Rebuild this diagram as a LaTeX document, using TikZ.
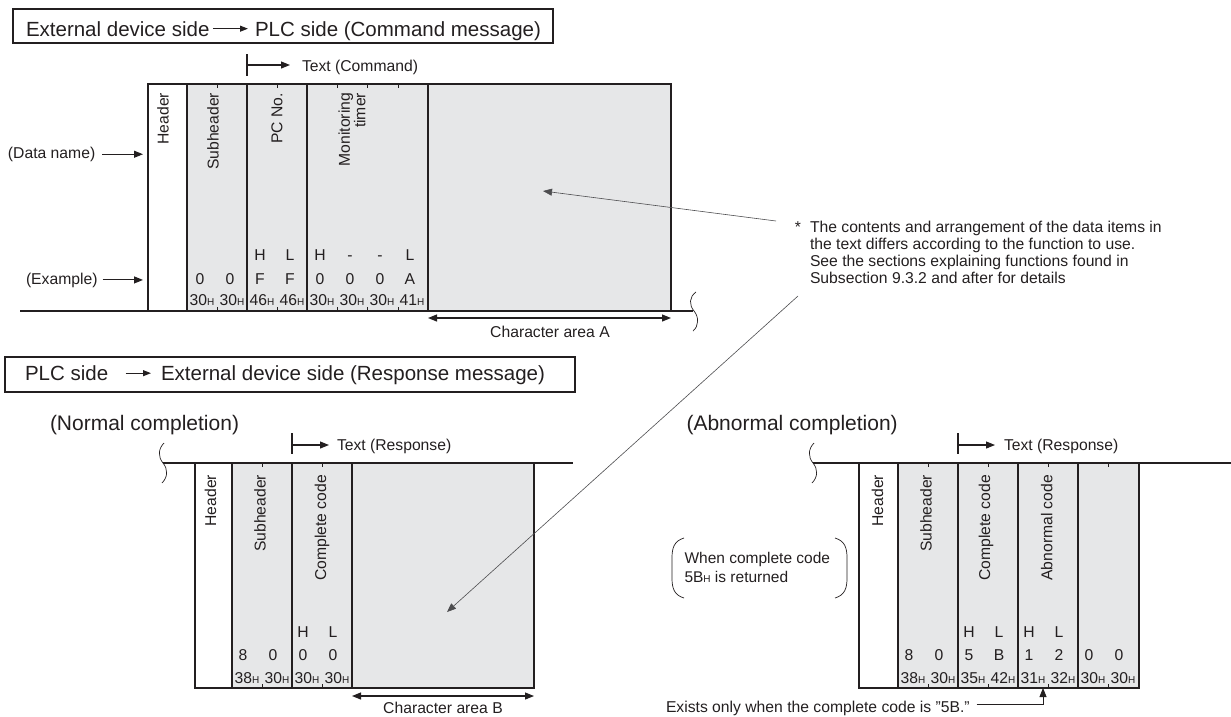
\documentclass[tikz,border=0pt]{standalone}
\usepackage{fontspec}
\setmainfont{Liberation Sans}
\usepackage{tikz}
\usetikzlibrary{arrows.meta,positioning,calc}
\usepackage{xcolor}
\definecolor{ink}{HTML}{231F20}
\definecolor{field}{HTML}{E6E7E8}
\definecolor{lead}{HTML}{4D4D4F}
\def\bw{30pt}
\newcommand{\bx}[1]{\makebox[\bw]{#1}}
\newcommand{\hx}[1]{#1{\fontsize{10}{10}\selectfont H}}
\tikzset{
  >={Triangle[length=9pt,width=7pt]},
  every node/.style={font=\fontsize{15.7}{17.2}\selectfont,text=ink,inner sep=0pt,outer sep=0pt},
  txt/.style={anchor=base west},
  headline/.style={anchor=base west,font=\fontsize{20.5}{24}\selectfont},
  banner/.style={draw=ink,line width=1.2pt,anchor=north west},
  cell/.style={draw=ink,line width=1.1pt,fill=white,anchor=north west},
  fcell/.style={cell,fill=field},
  vlabel/.style={rotate=90,anchor=east,align=right,font=\fontsize{15.7}{12.5}\selectfont},
  bytes/.style={anchor=base west},
  bytetick/.style={draw=ink,line width=0.9pt},
  rule/.style={draw=ink,line width=1.1pt},
  wave/.style={draw=ink,line width=0.7pt},
  arrow/.style={->,draw=ink,line width=1.1pt},
  smallarr/.style={arrow,>={Triangle[length=8pt,width=6pt]}},
  twoway/.style={<->,draw=ink,line width=1.1pt},
  leader/.style={->,draw=lead,line width=0.6pt},
}
\begin{document}
\begin{tikzpicture}[x=1pt,y=-1pt,tall/.style={minimum height=227pt},short/.style={minimum height=225pt}]
\useasboundingbox (0,0) rectangle (1231,716);

\node[banner,minimum width=540pt,minimum height=34pt] (cmdbanner) at (13,9) {};
\node[headline] (cmdfrom) at (26,36) {External device side};
\node[headline] (cmdto) at (255,36) {PLC side (Command message)};
\draw[smallarr] ([xshift=3.5pt]cmdfrom.east) -- ($(cmdfrom.east -| cmdto.west)+(-7,0)$);

\node[cell,tall,minimum width=39pt] (hdrA) at (148,84) {};
\node[fcell,tall,minimum width=60pt,right=0pt of hdrA] (subA) {};
\node[fcell,tall,minimum width=60pt,right=0pt of subA] (pcA) {};
\node[fcell,tall,minimum width=121pt,right=0pt of pcA] (monA) {};
\node[fcell,tall,minimum width=243pt,right=0pt of monA] (areaA) {};
\draw[rule] (20,311) -- (693,311);
\draw[wave] (696,292) .. controls (689,297) and (689,305) .. (694,311) .. controls (699,317) and (699,326) .. (693,331);
\draw[bytetick] (subA.north) -- ++(0,4) (subA.south) -- ++(0,-4) (pcA.north) -- ++(0,4) (pcA.south) -- ++(0,-4)
  ([xshift=30pt]monA.north west) -- ++(0,4) ([xshift=30pt]monA.south west) -- ++(0,-4)
  (monA.north) -- ++(0,4) (monA.south) -- ++(0,-4)
  ([xshift=-30pt]monA.north east) -- ++(0,4) ([xshift=-30pt]monA.south east) -- ++(0,-4);

\node[vlabel] (hdrAname) at ([xshift=-4.5pt,yshift=-9pt]hdrA.north) {Header};
\node[vlabel] (subAname) at ([xshift=-4pt,yshift=-9pt]subA.north) {Subheader};
\node[vlabel] (pcAname) at ([yshift=-9pt]pcA.north) {PC No.};
\node[vlabel] (monAname) at ([xshift=-15.5pt,yshift=-9pt]monA.north) {Monitoring\\timer};

\node[bytes] (hlA) at (245,260) {\bx{H}\bx{L}\bx{H}\bx{-}\bx{-}\bx{L}};
\node[bytes] (valA) at (185,284) {\bx{0}\bx{0}\bx{F}\bx{F}\bx{0}\bx{0}\bx{0}\bx{A}};
\node[bytes] (hexA) at (187,305) {\bx{\hx{30}}\bx{\hx{30}}\bx{\hx{46}}\bx{\hx{46}}\bx{\hx{30}}\bx{\hx{30}}\bx{\hx{30}}\bx{\hx{41}}};

\node[txt] (dataname) at (8,158.3) {(Data name)};
\node[txt] (example) at (26,284) {(Example)};
\draw[arrow,shorten <=7pt,shorten >=5pt] (dataname.east) -- (dataname.east -| hdrA.west);
\draw[arrow,shorten <=5pt,shorten >=5pt] (example.east) -- (example.east -| hdrA.west);

\node[txt] (cmdtext) at (302,71.5) {Text (Command)};
\coordinate (cmdstart) at (247,65);
\draw[rule] (247,54) -- (247,76);
\draw[arrow] (cmdstart) -- ($(cmdtext.west |- cmdstart)+(-12,0)$);

\draw[twoway] ([yshift=-7pt]areaA.south west) -- ([yshift=-7pt]areaA.south east);
\node[anchor=base] (areaAname) at (550,337) {Character area A};

\node[anchor=north west,align=left] (note) at (810,221) {\llap{*\hspace{9pt}}The contents and arrangement of the data items in\\the text differs according to the function to use.\\See the sections explaining functions found in\\Subsection 9.3.2 and after for details};

\node[banner,minimum width=570pt,minimum height=35pt] (rspbanner) at (5,357) {};
\node[headline] (rspfrom) at (25,380.5) {PLC side};
\node[headline] (rspto) at (161,380.5) {External device side (Response message)};
\draw[smallarr] ([xshift=17.5pt]rspfrom.east) -- ($(rspfrom.east -| rspto.west)+(-10,0)$);

\node[headline,font=\fontsize{21}{24}\selectfont] (normal) at (50,430) {(Normal completion)};
\draw[rule] (163,463) -- (573,463);
\draw[wave] (164,443) .. controls (158,449) and (158,457) .. (163,463) .. controls (168,469) and (168,477) .. (162,483);
\node[cell,short,minimum width=37pt] (hdrB) at (195,463) {};
\node[fcell,short,minimum width=60pt,right=0pt of hdrB] (subB) {};
\node[fcell,short,minimum width=60pt,right=0pt of subB] (compB) {};
\node[fcell,short,minimum width=182pt,right=0pt of compB] (areaB) {};
\draw[bytetick] (subB.north) -- ++(0,4) (subB.south) -- ++(0,-4) (compB.north) -- ++(0,4) (compB.south) -- ++(0,-4);
\node[vlabel] (hdrBname) at ([xshift=-3pt,yshift=-12pt]hdrB.north) {Header};
\node[vlabel] (subBname) at ([xshift=-2pt,yshift=-12pt]subB.north) {Subheader};
\node[vlabel] (compBname) at ([yshift=-12pt]compB.north) {Complete code};
\node[bytes] (hlB) at (288,637.3) {\bx{H}\bx{L}};
\node[bytes] (valB) at (228,660.7) {\bx{8}\bx{0}\bx{0}\bx{0}};
\node[bytes] (hexB) at (232,683.3) {\bx{\hx{38}}\bx{\hx{30}}\bx{\hx{30}}\bx{\hx{30}}};
\node[txt] (rsptextB) at (337,450.7) {Text (Response)};
\coordinate (rspstartB) at (292,445);
\draw[rule] (292,433) -- (292,454);
\draw[arrow] (rspstartB) -- ($(rsptextB.west |- rspstartB)+(-8,0)$);
\draw[twoway] ([yshift=-8pt]areaB.south west) -- ([yshift=-8pt]areaB.south east);
\node[anchor=base] (areaBname) at (443,713.5) {Character area B};

\node[headline,font=\fontsize{21}{24}\selectfont] (abnormal) at (686.5,430) {(Abnormal completion)};
\draw[rule] (813,463) -- (1231,463);
\draw[wave] (814,443) .. controls (808,449) and (808,457) .. (813,463) .. controls (818,469) and (818,477) .. (812,483);
\node[cell,short,minimum width=39pt] (hdrC) at (859,463) {};
\node[fcell,short,minimum width=60pt,right=0pt of hdrC] (subC) {};
\node[fcell,short,minimum width=60pt,right=0pt of subC] (compC) {};
\node[fcell,short,minimum width=60pt,right=0pt of compC] (abnC) {};
\node[fcell,short,minimum width=61pt,right=0pt of abnC] (tailC) {};
\draw[bytetick] (subC.north) -- ++(0,4) (subC.south) -- ++(0,-4) (compC.north) -- ++(0,4) (compC.south) -- ++(0,-4)
  (abnC.north) -- ++(0,4) (abnC.south) -- ++(0,-4) (tailC.north) -- ++(0,4) (tailC.south) -- ++(0,-4);
\node[vlabel] (hdrCname) at ([xshift=-1pt,yshift=-12pt]hdrC.north) {Header};
\node[vlabel] (subCname) at ([xshift=-2pt,yshift=-12pt]subC.north) {Subheader};
\node[vlabel] (compCname) at ([xshift=-2pt,yshift=-12pt]compC.north) {Complete code};
\node[vlabel] (abnCname) at ([xshift=-1.3pt,yshift=-12pt]abnC.north) {Abnormal code};
\node[bytes] (hlC) at (954,637.3) {\bx{H}\bx{L}\bx{H}\bx{L}};
\node[bytes] (valC) at (894,660.7) {\bx{8}\bx{0}\bx{5}\bx{B}\bx{1}\bx{2}\bx{0}\bx{0}};
\node[bytes] (hexC) at (898,683.3) {\bx{\hx{38}}\bx{\hx{30}}\bx{\hx{35}}\bx{\hx{42}}\bx{\hx{31}}\bx{\hx{32}}\bx{\hx{30}}\bx{\hx{30}}};
\node[txt] (rsptextC) at (1004,450.7) {Text (Response)};
\coordinate (rspstartC) at (958,445);
\draw[rule] (958,433) -- (958,454);
\draw[arrow] (rspstartC) -- ($(rsptextC.west |- rspstartC)+(-9,0)$);

\node[anchor=west,align=left,font=\fontsize{15.5}{19}\selectfont] (when) at (684.5,567) {When complete code\\\hx{5B} is returned};
\draw[wave] (684,538) .. controls (674,541) and (672,548) .. (672,558) -- (672,578) .. controls (672,588) and (674,595) .. (684,598);
\draw[wave] (835,538) .. controls (845,541) and (847,548) .. (847,558) -- (847,578) .. controls (847,588) and (845,595) .. (835,598);

\node[txt] (exists) at (666,712.3) {Exists only when the complete code is "5B."};
\coordinate (exmark) at (1043,688);
\draw[leader,draw=ink,line width=0.8pt] ($(exists.base east)+(7,-8)$) -| (exmark);

\coordinate (leadA) at (776,221);
\coordinate (tipA) at (543,191);
\coordinate (leadB) at (798,296);
\coordinate (tipB) at (447,612);
\draw[leader] (leadA) -- (tipA);
\draw[leader] (leadB) -- (tipB);
\end{tikzpicture}
\end{document}
